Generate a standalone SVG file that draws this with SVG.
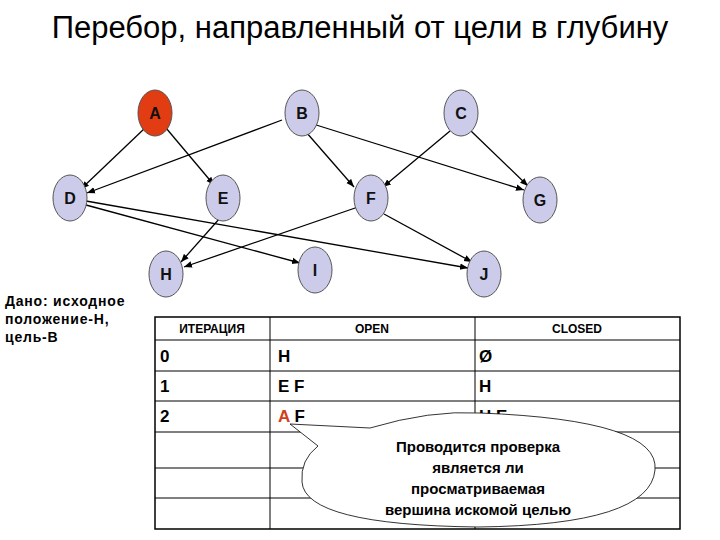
<svg xmlns="http://www.w3.org/2000/svg" width="720" height="540" viewBox="0 0 720 540">
<defs>
<marker id="ar" viewBox="0 0 10 10" refX="10" refY="5" markerWidth="8" markerHeight="8" orient="auto" markerUnits="userSpaceOnUse"><path d="M0,1 L10,5 L0,9 z" fill="#000"/></marker>
<style>
.n ellipse{fill:#ccccea;stroke:#555;stroke-width:1}
.n text{font-family:"Liberation Sans",Arial,sans-serif;font-weight:bold;font-size:16px;text-anchor:middle;fill:#111}
.e line{stroke:#000;stroke-width:1.3;marker-end:url(#ar)}
.t{font-family:"Liberation Sans",Arial,sans-serif;font-weight:bold;fill:#000}
.g line{stroke:#000;stroke-width:1}
</style>
</defs>
<rect width="720" height="540" fill="#fff"/>
<text x="360" y="38" font-family="Liberation Sans,Arial,sans-serif" font-size="31" text-anchor="middle">Перебор, направленный от цели в глубину</text>
<g class="e" id="connectors">
<line x1="145" y1="128" x2="81" y2="189"/>
<line x1="166" y1="128" x2="214" y2="185"/>
<line x1="282" y1="120" x2="87" y2="193"/>
<line x1="306" y1="132" x2="354" y2="187"/>
<line x1="313" y1="124" x2="524" y2="190"/>
<line x1="450" y1="131" x2="383" y2="187"/>
<line x1="471" y1="131" x2="528" y2="186"/>
<line x1="86" y1="205" x2="300" y2="263"/>
<line x1="86" y1="201" x2="468" y2="268"/>
<line x1="220" y1="218" x2="181" y2="262"/>
<line x1="358" y1="207" x2="184" y2="267"/>
<line x1="384" y1="214" x2="472" y2="262"/>
</g>
<g class="n" id="nA"><ellipse cx="155" cy="113" rx="17" ry="23" style="fill:#e23c12"/><text x="155" y="119">A</text></g>
<g class="n" id="nB"><ellipse cx="302" cy="113" rx="17" ry="23"/><text x="302" y="119">B</text></g>
<g class="n" id="nC"><ellipse cx="461" cy="113" rx="17" ry="23"/><text x="461" y="119">C</text></g>
<g class="n" id="nD"><ellipse cx="70" cy="198" rx="17" ry="23"/><text x="70" y="204">D</text></g>
<g class="n" id="nE"><ellipse cx="223" cy="198" rx="17" ry="23"/><text x="223" y="204">E</text></g>
<g class="n" id="nF"><ellipse cx="371" cy="198" rx="17" ry="23"/><text x="371" y="204">F</text></g>
<g class="n" id="nG"><ellipse cx="540" cy="200" rx="17" ry="23"/><text x="540" y="206">G</text></g>
<g class="n" id="nH"><ellipse cx="166" cy="274" rx="17" ry="23"/><text x="166" y="280">H</text></g>
<g class="n" id="nI"><ellipse cx="315" cy="270" rx="17" ry="23"/><text x="315" y="276">I</text></g>
<g class="n" id="nJ"><ellipse cx="484" cy="274" rx="17" ry="23"/><text x="484" y="280">J</text></g>
<g id="given" class="t" font-size="14" letter-spacing="0.8">
<text x="5" y="306">Дано: исходное</text>
<text x="5" y="324">положение-Н,</text>
<text x="5" y="342">цель-В</text>
</g>
<g id="table">
<rect x="155" y="317" width="525" height="212" fill="#fff" stroke="#000" stroke-width="1.5"/>
<g class="g">
<line x1="270" y1="317" x2="270" y2="529"/>
<line x1="475" y1="317" x2="475" y2="529"/>
<line x1="155" y1="340" x2="680" y2="340"/>
<line x1="155" y1="371" x2="680" y2="371"/>
<line x1="155" y1="401" x2="680" y2="401"/>
<line x1="155" y1="432" x2="680" y2="432"/>
<line x1="155" y1="468" x2="680" y2="468"/>
<line x1="155" y1="498" x2="680" y2="498"/>
</g>
<g class="t" font-size="12" text-anchor="middle">
<text x="212" y="333">ИТЕРАЦИЯ</text>
<text x="372" y="333">OPEN</text>
<text x="577" y="333">CLOSED</text>
</g>
<g class="t" font-size="17">
<text x="160" y="362">0</text><text x="278" y="362">H</text><text x="479" y="362">Ø</text>
<text x="160" y="392">1</text><text x="278" y="392">E F</text><text x="479" y="392">H</text>
<text x="160" y="422">2</text><text x="278" y="422"><tspan fill="#d0401a">A</tspan> F</text><text x="479" y="422">H E</text>
</g>
</g>
<g id="callout">
<path d="M290,424 L370,428 Q430,410 480,413 Q660,420 655,470 Q650,525 478,527 Q305,525 302,482 Q300,460 318,446 Z" fill="#fff" stroke="#000" stroke-width="0.8"/>
<g class="t" font-size="15" text-anchor="middle">
<text x="478" y="452">Проводится проверка</text>
<text x="478" y="473">является ли</text>
<text x="478" y="494">просматриваемая</text>
<text x="478" y="515">вершина искомой целью</text>
</g>
</g>
</svg>
